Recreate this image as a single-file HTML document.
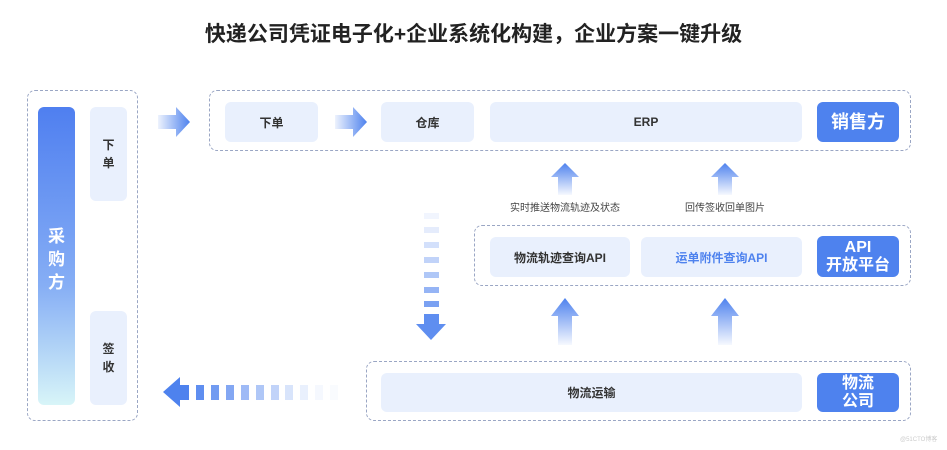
<!DOCTYPE html>
<html><head><meta charset="utf-8"><style>
body{margin:0;width:947px;height:450px;background:#fff;position:relative;overflow:hidden;font-family:"Liberation Sans","Noto Sans CJK SC",sans-serif}
.a{position:absolute}
.dash{position:absolute;border:1.5px dashed #9aa6c4;border-radius:8px;box-sizing:border-box}
.pb{position:absolute;background:#e9f0fd;border-radius:6px;display:flex;align-items:center;justify-content:center;font-size:12px;color:#333;font-weight:bold}
.bb{position:absolute;background:#4e82ee;border-radius:6px;display:flex;align-items:center;justify-content:center;text-align:center;color:#fff;font-size:17px;line-height:18px;font-weight:bold}
.lbl{position:absolute;font-size:10px;color:#444}
</style></head><body>
<div class="a" style="left:0;top:18px;width:947px;text-align:center;font-size:21px;font-weight:bold;color:#222">快递公司凭证电子化+企业系统化构建，企业方案一键升级</div>

<div class="dash" style="left:27px;top:90px;width:111px;height:331px"></div>
<div class="a" style="left:38px;top:107px;width:37px;height:298px;border-radius:6px;background:linear-gradient(#4f7ff0,#86aef5 60%,#d8f5f8)"></div>
<div class="a" style="left:38px;top:225px;width:37px;text-align:center;color:#fff;font-size:17px;line-height:23px;font-weight:bold">采<br>购<br>方</div>
<div class="pb" style="left:90px;top:107px;width:37px;height:94px;line-height:18px;text-align:center">下<br>单</div>
<div class="pb" style="left:90px;top:311px;width:37px;height:94px;line-height:18px;text-align:center">签<br>收</div>

<svg class="a" style="left:0;top:0" width="947" height="450">
<defs>
<linearGradient id="gr" x1="0" x2="1"><stop offset="0" stop-color="#4e82ee" stop-opacity=".1"/><stop offset="1" stop-color="#4e82ee"/></linearGradient>
<linearGradient id="gu" x1="0" y1="1" x2="0" y2="0"><stop offset="0" stop-color="#4e82ee" stop-opacity=".05"/><stop offset="1" stop-color="#4e82ee"/></linearGradient>
</defs>
<polygon points="158,115 176,115 176,107 190,122 176,137 176,129 158,129" fill="url(#gr)"/>
<polygon points="335,115 353,115 353,107 367,122 353,137 353,129 335,129" fill="url(#gr)"/>
<g fill="url(#gu)">
<polygon points="558,195 558,177 551,177 565,163 579,177 572,177 572,195"/>
<polygon points="718,195 718,177 711,177 725,163 739,177 732,177 732,195"/>
<polygon points="558,345 558,316 551,316 565,298 579,316 572,316 572,345"/>
<polygon points="718,345 718,316 711,316 725,298 739,316 732,316 732,345"/>
</g>
<g fill="#4e82ee">
<rect x="424" y="213" width="15" height="6" opacity=".08"/>
<rect x="424" y="227" width="15" height="6" opacity=".15"/>
<rect x="424" y="242" width="15" height="6" opacity=".25"/>
<rect x="424" y="257" width="15" height="6" opacity=".35"/>
<rect x="424" y="272" width="15" height="6" opacity=".45"/>
<rect x="424" y="287" width="15" height="6" opacity=".6"/>
<rect x="424" y="301" width="15" height="6" opacity=".75"/>
<polygon points="424,314 439,314 439,324 446,324 431,340 416,324 424,324" opacity=".9"/>
<polygon points="163,392 180,377 180,385 189,385 189,400 180,400 180,407"/>
<rect x="196" y="385" width="8" height="15" opacity=".9"/>
<rect x="211" y="385" width="8" height="15" opacity=".8"/>
<rect x="226" y="385" width="8" height="15" opacity=".7"/>
<rect x="241" y="385" width="8" height="15" opacity=".55"/>
<rect x="256" y="385" width="8" height="15" opacity=".45"/>
<rect x="271" y="385" width="8" height="15" opacity=".35"/>
<rect x="285" y="385" width="8" height="15" opacity=".22"/>
<rect x="300" y="385" width="8" height="15" opacity=".12"/>
<rect x="315" y="385" width="8" height="15" opacity=".06"/>
<rect x="330" y="385" width="8" height="15" opacity=".03"/>
</g>
</svg>

<div class="dash" style="left:209px;top:90px;width:702px;height:61px"></div>
<div class="pb" style="left:225px;top:102px;width:93px;height:40px">下单</div>
<div class="pb" style="left:381px;top:102px;width:93px;height:40px">仓库</div>
<div class="pb" style="left:490px;top:102px;width:312px;height:40px">ERP</div>
<div class="bb" style="left:817px;top:102px;width:82px;height:40px;font-size:18px">销售方</div>

<div class="lbl" style="left:505px;top:199px;width:120px;text-align:center">实时推送物流轨迹及状态</div>
<div class="lbl" style="left:665px;top:199px;width:120px;text-align:center">回传签收回单图片</div>

<div class="dash" style="left:474px;top:225px;width:437px;height:61px"></div>
<div class="pb" style="left:490px;top:237px;width:140px;height:40px">物流轨迹查询API</div>
<div class="pb" style="left:641px;top:237px;width:161px;height:40px;color:#4e82ee">运单附件查询API</div>
<div class="bb" style="left:817px;top:236px;width:82px;height:41px;font-size:16px">API<br>开放平台</div>

<div class="dash" style="left:366px;top:361px;width:545px;height:60px"></div>
<div class="pb" style="left:381px;top:373px;width:421px;height:39px">物流运输</div>
<div class="bb" style="left:817px;top:373px;width:82px;height:39px;font-size:16px">物流<br>公司</div>
<div class="a" style="left:900px;top:434px;font-size:6px;color:#ccc">@51CTO博客</div>
</body></html>
